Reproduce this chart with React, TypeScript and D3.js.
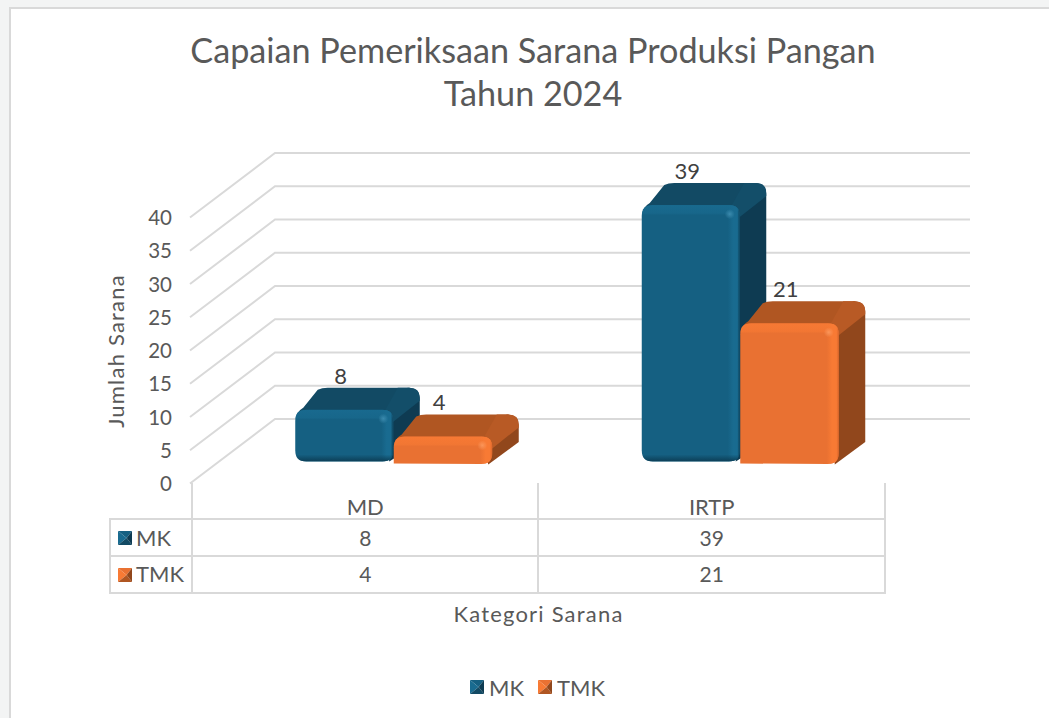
import React from "react";
import * as d3 from "d3";

const categories = ["MD", "IRTP"];
const seriesNames = ["MK", "TMK"];
const mkValues = [8, 39];
const tmkValues = [4, 21];
const yTicks = [0, 5, 10, 15, 20, 25, 30, 35, 40];
const titleLines = ["Capaian Pemeriksaan Sarana Produksi Pangan", "Tahun 2024"];

const W = 1049, H = 718;
const FONT = "Lato, 'Open Sans', sans-serif";
const GRID = "#d9d9d9";
const palette = [
  { front: "#156082", edge: "#196b90", top: "#124a64", topEdge: "#134e69", side: "#0e3b52", shadow: "#0c3e56", glow: "#4a9abd" },
  { front: "#e97132", edge: "#f87a34", top: "#b05622", topEdge: "#b85a25", side: "#91471c", shadow: "#d9652a", glow: "#ffa36a" },
];
const seriesValues = [mkValues, tmkValues];

const depthY = 63;
const yAxis = d3.scaleLinear().domain([0, 40]).range([482, 216]);
const xTable = d3.scaleBand().domain(categories).range([192, 885]);
const xSeries = d3.scaleBand().domain(seriesNames).range([0, 197]);
const barTop = [
  d3.scaleLinear().domain([0, 40]).range([462.5, 198.5]),
  d3.scaleLinear().domain([0, 40]).range([463, 197]),
];
const barBottom = [461.5, 464];
const barDepthX = 26.5, barDepthY = 22;

function roundedFront(x0, x1, y0, y1, r, squareBL) {
  const p = d3.path();
  p.moveTo(x0 + r, y0);
  p.lineTo(x1 - r, y0);
  p.quadraticCurveTo(x1, y0, x1, y0 + r);
  p.lineTo(x1, y1 - r);
  p.quadraticCurveTo(x1, y1, x1 - r, y1);
  if (squareBL) {
    p.lineTo(x0, y1 - 0.5);
  } else {
    p.lineTo(x0 + r, y1);
    p.quadraticCurveTo(x0, y1, x0, y1 - r);
  }
  p.lineTo(x0, y0 + r);
  p.quadraticCurveTo(x0, y0, x0 + r, y0);
  p.closePath();
  return p.toString();
}

function sidePath(x1, top, bottom, squareBottom) {
  const p = d3.path();
  p.moveTo(x1 - 10, top);
  p.lineTo(x1 + barDepthX - 12, top - barDepthY);
  p.quadraticCurveTo(x1 + barDepthX, top - barDepthY, x1 + barDepthX, top - barDepthY + 11);
  if (squareBottom) {
    p.lineTo(x1 + barDepthX, bottom - barDepthY);
    p.lineTo(x1 - 4, bottom + 0.5);
  } else {
    p.lineTo(x1 + barDepthX, bottom - barDepthY - 4);
    p.quadraticCurveTo(x1 + barDepthX, bottom - barDepthY + 3, x1 + barDepthX - 7, bottom - barDepthY + 7);
    p.lineTo(x1 - 4, bottom);
  }
  p.closePath();
  return p.toString();
}

function topPath(x0, x1, top) {
  const p = d3.path();
  p.moveTo(x0 + 1, top + 9);
  p.quadraticCurveTo(x0 + 1, top + 2, x0 + 8, top - 2);
  p.lineTo(x0 + barDepthX - 4, top - barDepthY + 2);
  p.quadraticCurveTo(x0 + barDepthX, top - barDepthY, x0 + barDepthX + 6, top - barDepthY);
  p.lineTo(x1 + barDepthX - 10, top - barDepthY);
  p.lineTo(x1 - 2, top + 6);
  p.lineTo(x1 - 8, top + 8);
  p.closePath();
  return p.toString();
}

function topEdgePath(x1, top) {
  const p = d3.path();
  p.moveTo(x1 - 9, top + 2);
  p.lineTo(x1 + barDepthX - 22, top - barDepthY);
  p.lineTo(x1 + barDepthX - 10, top - barDepthY);
  p.quadraticCurveTo(x1 + barDepthX, top - barDepthY, x1 + barDepthX, top - barDepthY + 10);
  p.lineTo(x1 + barDepthX, top - barDepthY + 13);
  p.lineTo(x1, top + 12);
  p.closePath();
  return p.toString();
}

function Bar({ si, ci }) {
  const c = palette[si];
  const value = seriesValues[si][ci];
  const x0 = xTable(categories[ci]) + xTable.bandwidth() / 2 + xSeries(seriesNames[si]) - 70;
  const x1 = x0 + xSeries.bandwidth() - (si === 0 ? 0.5 : 0);
  const top = barTop[si](value);
  const bottom = barBottom[si];
  const r = 11;
  return (
    <g>
      <path d={sidePath(x1, top, bottom, si === 1)} fill={c.side} />
      <path d={topPath(x0, x1, top)} fill={c.top} />
      <path d={topEdgePath(x1, top)} fill={c.topEdge} />
      <path d={roundedFront(x0, x1, top, bottom, r, si === 1)} fill={c.front} />
      <clipPath id={`clip-${si}-${ci}`}>
        <path d={roundedFront(x0, x1, top, bottom, r, si === 1)} />
      </clipPath>
      <g clipPath={`url(#clip-${si}-${ci})`}>
        <rect x={x0} y={top} width={x1 - x0} height={10} fill={`url(#topbevel-${si})`} />
        <rect x={x1 - 12} y={top} width={12} height={bottom - top} fill={`url(#rightbevel-${si})`} />
        <rect x={x0} y={bottom - 7} width={x1 - x0} height={7} fill={`url(#botbevel-${si})`} />
        <circle cx={x1 - 10} cy={top + 9} r={5} fill={`url(#glow-${si})`} />
      </g>
      <text x={x0 + 45.5} y={top - 34.5} fontSize={22} fill="#404040" textAnchor="middle" dominantBaseline="central">
        {value}
      </text>
    </g>
  );
}

function LegendKey({ x, y, si }) {
  const c = palette[si];
  const s = 14;
  const cx = x + s * 0.62, cy = y + s * 0.5;
  const pts = (a) => a.map((q) => q.join(",")).join(" ");
  return (
    <g>
      <polygon points={pts([[x, y], [x + s, y], [cx, cy]])} fill={c.front} />
      <polygon points={pts([[x, y], [cx, cy], [x, y + s]])} fill={c.edge} />
      <polygon points={pts([[x, y + s], [cx, cy], [x + s, y + s]])} fill={c.top} />
      <polygon points={pts([[x + s, y], [x + s, y + s], [cx, cy]])} fill={c.side} />
    </g>
  );
}

export default function App() {
  const tableRows = [519, 556, 593];
  const tableCols = [192, 538, 885];
  return (
    <svg
      width={W}
      height={H}
      viewBox={`0 0 ${W} ${H}`}
      style={{ position: "absolute", left: 0, top: 0, display: "block", fontFamily: FONT }}
    >
      <defs>
        {palette.map((c, i) => (
          <React.Fragment key={i}>
            <linearGradient id={`topbevel-${i}`} x1="0" x2="0" y1="0" y2="1">
              <stop offset="0" stopColor={c.edge} stopOpacity="0.9" />
              <stop offset="0.8" stopColor={c.edge} stopOpacity="0.6" />
              <stop offset="1" stopColor={c.edge} stopOpacity="0" />
            </linearGradient>
            <linearGradient id={`rightbevel-${i}`} x1="0" x2="1" y1="0" y2="0">
              <stop offset="0" stopColor={c.edge} stopOpacity="0" />
              <stop offset="0.45" stopColor={c.edge} stopOpacity="1" />
              <stop offset="0.8" stopColor={c.edge} stopOpacity="1" />
              <stop offset="1" stopColor={c.shadow} stopOpacity="0.8" />
            </linearGradient>
            <linearGradient id={`botbevel-${i}`} x1="0" x2="0" y1="0" y2="1">
              <stop offset="0" stopColor={c.shadow} stopOpacity="0" />
              <stop offset="1" stopColor={c.shadow} stopOpacity={i === 0 ? 1 : 0} />
            </linearGradient>
            <radialGradient id={`glow-${i}`}>
              <stop offset="0" stopColor={c.glow} stopOpacity="0.7" />
              <stop offset="1" stopColor={c.glow} stopOpacity="0" />
            </radialGradient>
          </React.Fragment>
        ))}
      </defs>

      <rect width={W} height={H} fill="#f3f4f4" />
      <rect x={10} y={8} width={W} height={H} fill="#ffffff" stroke={GRID} strokeWidth={2} />

      {titleLines.map((t, i) => (
        <text key={t} x={533} y={63 + i * 43} fontSize={34.2} fill="#595959" textAnchor="middle">
          {t}
        </text>
      ))}

      <g fill="none" stroke={GRID} strokeWidth={2}>
        {yTicks.map((t) => (
          <polyline
            key={t}
            points={`190,${yAxis(t) + 1.5} 275,${yAxis(t) - depthY} 970,${yAxis(t) - depthY}`}
          />
        ))}
      </g>

      {yTicks.map((t) => (
        <text key={t} x={172} y={yAxis(t) + 1} fontSize={20.5} fill="#595959" textAnchor="end" dominantBaseline="central">
          {t}
        </text>
      ))}

      <text
        transform="translate(115,351) rotate(-90)"
        fontSize={22}
        letterSpacing={1.2}
        fill="#595959"
        textAnchor="middle"
        dominantBaseline="central"
      >
        Jumlah Sarana
      </text>

      {categories.map((_, ci) => seriesNames.map((_, si) => <Bar key={`${si}-${ci}`} si={si} ci={ci} />))}

      <g stroke={GRID} strokeWidth={2} fill="none">
        {tableRows.map((y) => (
          <line key={y} x1={110} x2={885} y1={y} y2={y} />
        ))}
        <line x1={110} x2={110} y1={518} y2={594} />
        {tableCols.map((x) => (
          <line key={x} x1={x} x2={x} y1={483} y2={594} />
        ))}
      </g>

      {categories.map((cat) => (
        <text
          key={cat}
          x={xTable(cat) + xTable.bandwidth() / 2}
          y={506}
          fontSize={22}
          fill="#595959"
          textAnchor="middle"
          dominantBaseline="central"
        >
          {cat}
        </text>
      ))}

      {seriesNames.map((name, si) => (
        <g key={name}>
          <LegendKey x={118} y={531 + si * 37} si={si} />
          <text x={136} y={537 + si * 36.5} fontSize={22} fill="#595959" dominantBaseline="central">
            {name}
          </text>
          {categories.map((cat, ci) => (
            <text
              key={cat}
              x={xTable(cat) + xTable.bandwidth() / 2}
              y={537 + si * 36.5}
              fontSize={21}
              fill="#595959"
              textAnchor="middle"
              dominantBaseline="central"
            >
              {seriesValues[si][ci]}
            </text>
          ))}
        </g>
      ))}

      <text x={538.5} y={613} fontSize={22} letterSpacing={1.2} fill="#595959" textAnchor="middle" dominantBaseline="central">
        Kategori Sarana
      </text>

      {seriesNames.map((name, si) => (
        <g key={name}>
          <LegendKey x={470 + si * 68} y={680} si={si} />
          <text x={489 + si * 68} y={687} fontSize={22} fill="#595959" dominantBaseline="central">
            {name}
          </text>
        </g>
      ))}
    </svg>
  );
}
